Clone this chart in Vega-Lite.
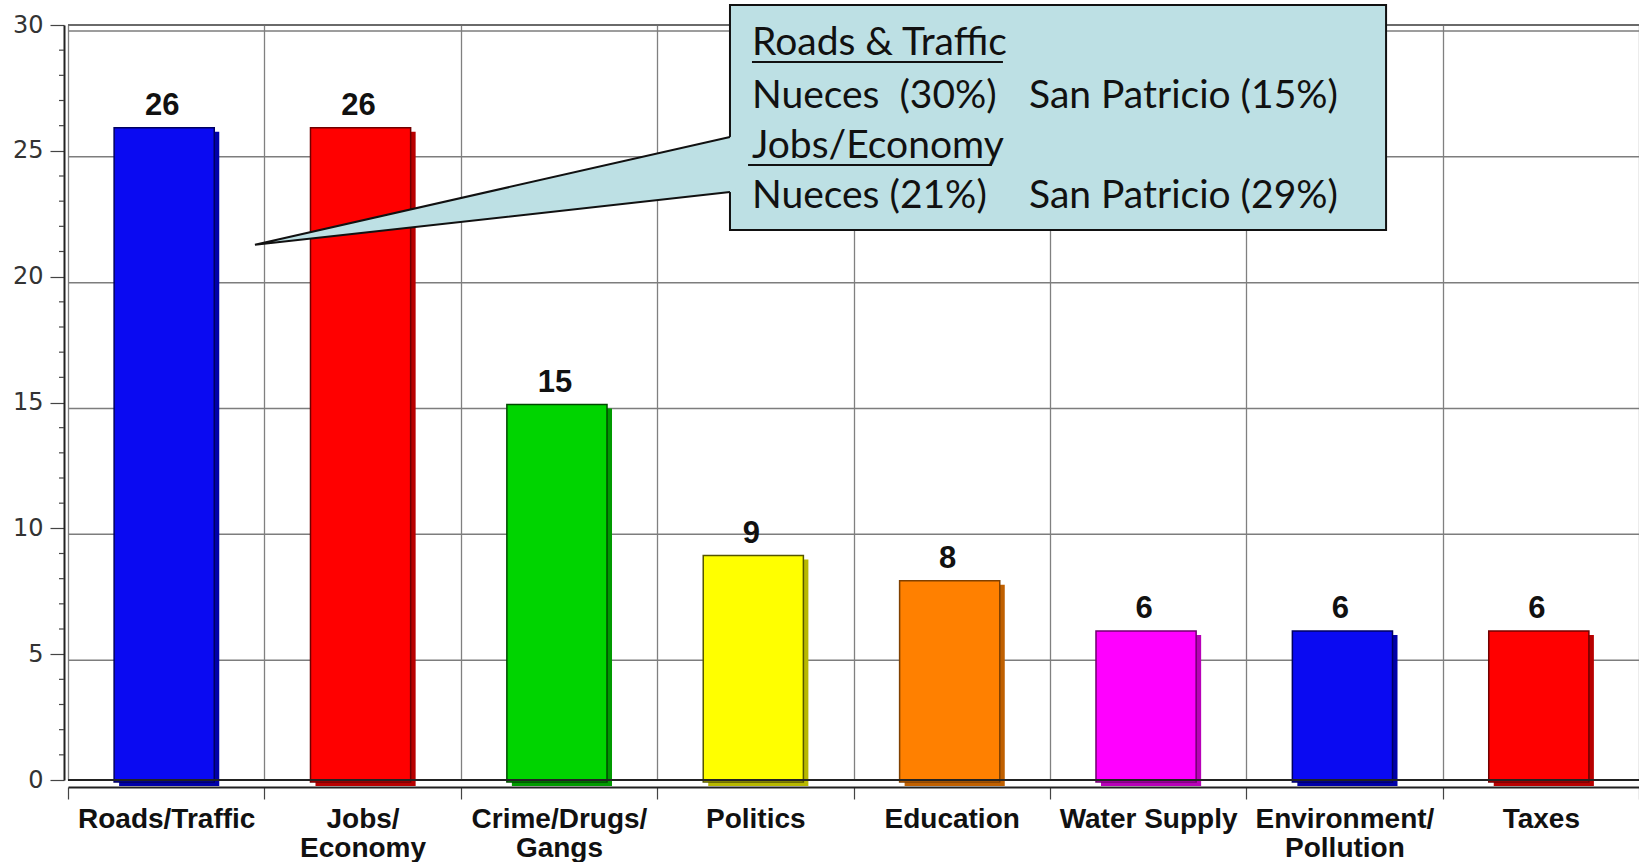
{
  "$schema": "https://vega.github.io/schema/vega-lite/v6.json",
  "width": 1571,
  "height": 755,
  "autosize": {"type": "none"},
  "padding": {"left": 68, "top": 25, "right": 0, "bottom": 82},
  "background": "white",
  "config": {"view": {"stroke": null}},
  "datasets": {
    "bars": [
      {"topic": "Roads/Traffic", "value": 26},
      {"topic": "Jobs/ Economy", "value": 26},
      {"topic": "Crime/Drugs/ Gangs", "value": 15},
      {"topic": "Politics", "value": 9},
      {"topic": "Education", "value": 8},
      {"topic": "Water Supply", "value": 6},
      {"topic": "Environment/ Pollution", "value": 6},
      {"topic": "Taxes", "value": 6}
    ],
    "grid": [{"v": 5}, {"v": 10}, {"v": 15}, {"v": 20}, {"v": 25}, {"v": 30}],
    "minor": [{"v": 1}, {"v": 2}, {"v": 3}, {"v": 4}, {"v": 6}, {"v": 7}, {"v": 8}, {"v": 9}, {"v": 11}, {"v": 12}, {"v": 13}, {"v": 14}, {"v": 16}, {"v": 17}, {"v": 18}, {"v": 19}, {"v": 21}, {"v": 22}, {"v": 23}, {"v": 24}, {"v": 26}, {"v": 27}, {"v": 28}, {"v": 29}],
    "box": [{"x": 3.371, "x2": 6.712, "y": 30.79, "y2": 21.85}],
    "pointerFill": [
      {"x": 0.952, "y": 21.27, "y2": 21.27},
      {"x": 3.4, "y": 25.6, "y2": 23.385}
    ],
    "pointerLine": [
      {"o": 1, "x": 3.371, "y": 25.55},
      {"o": 2, "x": 0.952, "y": 21.27},
      {"o": 3, "x": 3.371, "y": 23.36}
    ],
    "underlines": [
      {"x": 3.483, "x2": 4.761, "y": 28.53},
      {"x": 3.463, "x2": 4.705, "y": 24.44}
    ],
    "notes": [
      {"x": 3.483, "y": 28.81, "label": "Roads & Traffic"},
      {"x": 3.483, "y": 26.7, "label": "Nueces\u00a0 (30%)"},
      {"x": 4.894, "y": 26.7, "label": "San Patricio (15%)"},
      {"x": 3.483, "y": 24.71, "label": "Jobs/Economy"},
      {"x": 3.483, "y": 22.73, "label": "Nueces (21%)"},
      {"x": 4.894, "y": 22.73, "label": "San Patricio (29%)"}
    ]
  },
  "layer": [
    {
      "data": {"name": "grid"},
      "mark": {"type": "rule", "yOffset": 6, "color": "#7d7d7d", "strokeWidth": 1.5},
      "encoding": {
        "y": {"field": "v", "type": "quantitative", "scale": {"domain": [0, 30], "nice": false}, "axis": null}
      }
    },
    {
      "data": {"name": "grid"},
      "transform": [{"filter": "datum.v == 30"}],
      "mark": {"type": "rule", "color": "#6a6a6a", "strokeWidth": 2},
      "encoding": {
        "y": {"field": "v", "type": "quantitative", "scale": {"domain": [0, 30], "nice": false}, "axis": null}
      }
    },
    {
      "data": {"name": "bars"},
      "mark": {"type": "text", "dy": -11, "dx": -4, "baseline": "alphabetic", "font": "Liberation Sans", "fontWeight": "bold", "fontSize": 31, "color": "#111"},
      "encoding": {
        "x": {
          "field": "topic", "type": "nominal", "sort": null,
          "scale": {"paddingInner": 0, "paddingOuter": 0},
          "axis": {
            "title": null, "tickBand": "extent", "grid": true, "gridColor": "#808080", "gridWidth": 1.3,
            "domainColor": "#222", "domainWidth": 2, "offset": 7,
            "ticks": true, "tickSize": 12, "tickColor": "#444", "tickWidth": 1.2,
            "labelAngle": 0, "labelFont": "Liberation Sans", "labelFontWeight": "bold", "labelFontSize": 28,
            "labelColor": "#111", "labelPadding": 6, "labelLineHeight": 29, "labelLimit": 0,
            "labelOverlap": false, "labelBound": false,
            "labelExpr": "indexof(datum.label, '/ ') >= 0 ? [slice(datum.label, 0, indexof(datum.label, '/ ') + 1), slice(datum.label, indexof(datum.label, '/ ') + 2)] : datum.label"
          }
        },
        "y": {
          "field": "value", "type": "quantitative",
          "scale": {"domain": [0, 30], "nice": false},
          "axis": {
            "title": null, "orient": "left", "offset": 4,
            "values": [0, 5, 10, 15, 20, 25, 30],
            "grid": false, "domainColor": "#222", "domainWidth": 2,
            "tickColor": "#444", "tickWidth": 1.2, "tickSize": 14,
            "labelFont": "DejaVu Sans", "labelFontSize": 24, "labelColor": "#333", "labelPadding": 7
          }
        },
        "text": {"field": "value", "type": "quantitative"}
      }
    },
    {
      "data": {"name": "bars"},
      "mark": {"type": "bar", "xOffset": 3, "yOffset": 6},
      "encoding": {
        "x": {"field": "topic", "type": "nominal", "sort": null, "scale": {"paddingInner": 0.49, "paddingOuter": 0.245}, "axis": null},
        "y": {"field": "value", "type": "quantitative", "scale": {"domain": [0, 30], "nice": false}, "axis": null},
        "color": {
          "field": "topic", "type": "nominal", "sort": null, "legend": null,
          "scale": {
            "domain": ["Roads/Traffic", "Jobs/ Economy", "Crime/Drugs/ Gangs", "Politics", "Education", "Water Supply", "Environment/ Pollution", "Taxes"],
            "range": ["#0000a8", "#b80000", "#009a00", "#b8b800", "#c06000", "#b800b8", "#0000a8", "#b80000"]
          }
        }
      }
    },
    {
      "data": {"name": "bars"},
      "mark": {"type": "bar", "xOffset": -2, "yOffset": 2, "strokeWidth": 1.5},
      "encoding": {
        "x": {"field": "topic", "type": "nominal", "sort": null, "scale": {"paddingInner": 0.49, "paddingOuter": 0.245}, "axis": null},
        "y": {"field": "value", "type": "quantitative", "scale": {"domain": [0, 30], "nice": false}, "axis": null},
        "fill": {
          "field": "topic", "type": "nominal", "sort": null, "legend": null,
          "scale": {
            "domain": ["Roads/Traffic", "Jobs/ Economy", "Crime/Drugs/ Gangs", "Politics", "Education", "Water Supply", "Environment/ Pollution", "Taxes"],
            "range": ["#0a0af2", "#ff0000", "#00d400", "#ffff00", "#ff8000", "#ff00ff", "#0a0af2", "#ff0000"]
          }
        },
        "stroke": {
          "field": "topic", "type": "nominal", "sort": null, "legend": null,
          "scale": {
            "domain": ["Roads/Traffic", "Jobs/ Economy", "Crime/Drugs/ Gangs", "Politics", "Education", "Water Supply", "Environment/ Pollution", "Taxes"],
            "range": ["#000060", "#700000", "#004800", "#555500", "#804000", "#700070", "#000060", "#700000"]
          }
        }
      }
    },
    {
      "data": {"name": "bars"},
      "mark": {"type": "rule", "color": "#222", "strokeWidth": 2},
      "encoding": {
        "y": {"datum": 0, "type": "quantitative", "scale": {"domain": [0, 30], "nice": false}, "axis": null}
      }
    },
    {
      "data": {"name": "minor"},
      "mark": {"type": "rule", "color": "#444", "strokeWidth": 1.2},
      "encoding": {
        "x": {"datum": -0.0458, "type": "quantitative", "scale": {"domain": [0, 8], "nice": false, "zero": false}, "axis": null},
        "x2": {"datum": -0.0204},
        "y": {"field": "v", "type": "quantitative", "scale": {"domain": [0, 30], "nice": false}, "axis": null}
      }
    },
    {
      "data": {"name": "box"},
      "mark": {"type": "rect", "fill": "#bde0e4", "stroke": "#111", "strokeWidth": 2},
      "encoding": {
        "x": {"field": "x", "type": "quantitative", "scale": {"domain": [0, 8], "nice": false, "zero": false}, "axis": null},
        "x2": {"field": "x2"},
        "y": {"field": "y", "type": "quantitative", "scale": {"domain": [0, 30], "nice": false}, "axis": null},
        "y2": {"field": "y2"}
      }
    },
    {
      "data": {"name": "pointerFill"},
      "mark": {"type": "area", "fill": "#bde0e4", "strokeWidth": 0},
      "encoding": {
        "x": {"field": "x", "type": "quantitative", "scale": {"domain": [0, 8], "nice": false, "zero": false}, "axis": null},
        "y": {"field": "y", "type": "quantitative", "scale": {"domain": [0, 30], "nice": false}, "axis": null},
        "y2": {"field": "y2"}
      }
    },
    {
      "data": {"name": "pointerLine"},
      "mark": {"type": "line", "color": "#111", "strokeWidth": 2},
      "encoding": {
        "x": {"field": "x", "type": "quantitative", "scale": {"domain": [0, 8], "nice": false, "zero": false}, "axis": null},
        "y": {"field": "y", "type": "quantitative", "scale": {"domain": [0, 30], "nice": false}, "axis": null},
        "order": {"field": "o", "type": "quantitative"}
      }
    },
    {
      "data": {"name": "underlines"},
      "mark": {"type": "rule", "color": "#111", "strokeWidth": 2},
      "encoding": {
        "x": {"field": "x", "type": "quantitative", "scale": {"domain": [0, 8], "nice": false, "zero": false}, "axis": null},
        "x2": {"field": "x2"},
        "y": {"field": "y", "type": "quantitative", "scale": {"domain": [0, 30], "nice": false}, "axis": null}
      }
    },
    {
      "data": {"name": "notes"},
      "mark": {"type": "text", "align": "left", "baseline": "alphabetic", "font": "Lato", "fontSize": 39, "color": "#111"},
      "encoding": {
        "x": {"field": "x", "type": "quantitative", "scale": {"domain": [0, 8], "nice": false, "zero": false}, "axis": null},
        "y": {"field": "y", "type": "quantitative", "scale": {"domain": [0, 30], "nice": false}, "axis": null},
        "text": {"field": "label"}
      }
    }
  ],
  "resolve": {"scale": {"x": "independent"}, "axis": {"y": "independent"}}
}
